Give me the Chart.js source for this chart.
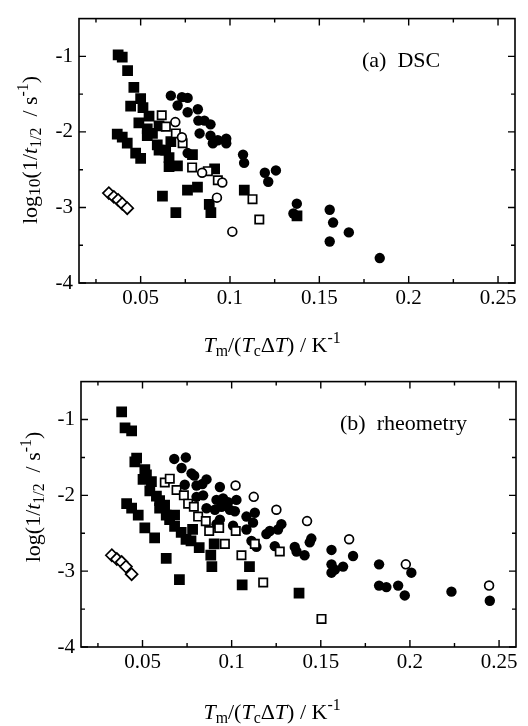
<!DOCTYPE html>
<html>
<head>
<meta charset="utf-8">
<script src="https://cdn.jsdelivr.net/npm/chart.js@4.4.1/dist/chart.umd.min.js"></script>
<style>
  body { margin: 0; background: #fff; }
  #wrap { position: relative; width: 528px; height: 726px; font-family: "Liberation Serif", "Times New Roman", serif; color: #000; }
  .panel { position: absolute; left: 0; width: 528px; height: 363px; }
  .txt { position: absolute; white-space: nowrap; font-size: 22px; line-height: 1; }
  .rot { transform: translate(-50%, -50%) rotate(-90deg); }
  .ctr { transform: translate(-50%, -50%); }
  sub { font-size: 0.72em; vertical-align: -0.25em; line-height: 0; }
  sup { font-size: 0.72em; vertical-align: 0.55em; line-height: 0; }
  .big sub.n { font-size: 0.8em; vertical-align: -0.15em; }
</style>
</head>
<body>
<div id="wrap">
  <div class="panel" style="top:0"><canvas id="dsc" width="528" height="363"></canvas></div>
  <div class="panel" style="top:363px"><canvas id="rheo" width="528" height="363"></canvas></div>

  <div class="txt" style="left:362px;top:49px">(a)&nbsp; DSC</div>
  <div class="txt rot big" style="left:30px;top:150px">log<sub class="n">10</sub>(1/<i>t</i><sub>1/2</sub>&nbsp; / s<sup>-1</sup>)</div>
  <div class="txt ctr" style="left:272px;top:345px"><i>T</i><sub>m</sub>/(<i>T</i><sub>c</sub>Δ<i>T</i>) / K<sup>-1</sup></div>

  <div class="txt" style="left:340px;top:412px">(b)&nbsp; rheometry</div>
  <div class="txt rot" style="left:33px;top:497px">log(1/<i>t</i><sub>1/2</sub>&nbsp; / s<sup>-1</sup>)</div>
  <div class="txt ctr" style="left:272px;top:712px"><i>T</i><sub>m</sub>/(<i>T</i><sub>c</sub>Δ<i>T</i>) / K<sup>-1</sup></div>
</div>

<script>
// axis ranges and ticks (same for both panels)
const xMin = 0.0155, xMax = 0.2595;
const yMin = -4, yMax = -0.5;
const xMajorTicks = [0.05, 0.1, 0.15, 0.2, 0.25];
const xMinorTicks = [0.025, 0.075, 0.125, 0.175, 0.225];
const yMajorTicks = [-4, -3, -2, -1];
const yMinorTicks = [-3.5, -2.5, -1.5];

// (a) DSC — [x, y] pairs
const dscFilledSquare = [
  [0.0374, -0.98], [0.0397, -1.01], [0.0427, -1.19], [0.0462, -1.41], [0.0500, -1.56],
  [0.0444, -1.66], [0.0513, -1.68], [0.0547, -1.79], [0.0490, -1.88], [0.0537, -1.96],
  [0.0537, -2.05], [0.0566, -2.02], [0.0603, -1.92], [0.0593, -2.17], [0.0603, -2.24],
  [0.0640, -2.24], [0.0669, -2.13], [0.0659, -2.34], [0.0659, -2.46], [0.0706, -2.45],
  [0.0790, -2.30], [0.0818, -2.73], [0.0762, -2.77], [0.0622, -2.85], [0.0697, -3.07],
  [0.0884, -2.96], [0.0893, -3.07], [0.0914, -2.49], [0.1080, -2.77], [0.1375, -3.11],
  [0.0369, -2.03], [0.0397, -2.07], [0.0425, -2.15], [0.0472, -2.28], [0.0500, -2.35]
];
const dscFilledCircle = [
  [0.0669, -1.52], [0.0707, -1.65], [0.0731, -1.54], [0.0763, -1.55], [0.0763, -1.74],
  [0.0820, -1.70], [0.0823, -1.85], [0.0857, -1.85], [0.0891, -1.90], [0.0830, -2.02],
  [0.0891, -2.05], [0.0904, -2.15], [0.0932, -2.11], [0.0979, -2.09], [0.0979, -2.15],
  [0.0763, -2.28], [0.1073, -2.30], [0.1079, -2.41], [0.1195, -2.54], [0.1257, -2.51],
  [0.1214, -2.66], [0.1374, -2.95], [0.1355, -3.08], [0.1558, -3.03], [0.1577, -3.20],
  [0.1558, -3.45], [0.1665, -3.33], [0.1838, -3.67]
];
const dscOpenSquare = [
  [0.0618, -1.78], [0.0641, -1.93], [0.0697, -2.02], [0.0735, -2.15], [0.0788, -2.47],
  [0.0876, -2.52], [0.0932, -2.64], [0.1126, -2.89], [0.1164, -3.16]
];
const dscOpenCircle = [
  [0.0694, -1.87], [0.0731, -2.07], [0.0844, -2.54], [0.0957, -2.67], [0.0927, -2.87],
  [0.1013, -3.32]
];
const dscOpenDiamond = [
  [0.0322, -2.81], [0.0350, -2.86], [0.0374, -2.90], [0.0397, -2.95], [0.0425, -3.01]
];

// (b) rheometry
const rheoFilledSquare = [
  [0.0383, -0.90], [0.0402, -1.11], [0.0439, -1.15], [0.0467, -1.51], [0.0457, -1.56],
  [0.0513, -1.66], [0.0522, -1.73], [0.0503, -1.79], [0.0550, -1.82], [0.0541, -1.94],
  [0.0578, -2.01], [0.0596, -2.07], [0.0596, -2.17], [0.0624, -2.13], [0.0633, -2.26],
  [0.0680, -2.26], [0.0652, -2.32], [0.0680, -2.41], [0.0717, -2.49], [0.0744, -2.58],
  [0.0781, -2.45], [0.0772, -2.60], [0.0818, -2.69], [0.0902, -2.64], [0.0883, -2.79],
  [0.0889, -2.94], [0.0633, -2.83], [0.0707, -3.11], [0.1100, -2.94], [0.1059, -3.18],
  [0.1378, -3.29], [0.0411, -2.11], [0.0439, -2.17], [0.0476, -2.26], [0.0513, -2.43],
  [0.0568, -2.56]
];
const rheoFilledCircle = [
  [0.0678, -1.52], [0.0743, -1.50], [0.0719, -1.64], [0.0775, -1.71], [0.0790, -1.74],
  [0.0737, -1.86], [0.0803, -1.87], [0.0859, -1.79], [0.0836, -1.85], [0.0934, -1.89],
  [0.0803, -2.02], [0.0840, -2.00], [0.0859, -2.17], [0.0906, -2.19], [0.0915, -2.06],
  [0.0952, -2.04], [0.0943, -2.15], [0.0980, -2.09], [0.0990, -2.19], [0.1027, -2.06],
  [0.1018, -2.21], [0.0934, -2.32], [0.0915, -2.38], [0.1008, -2.40], [0.1083, -2.28],
  [0.1083, -2.45], [0.1130, -2.23], [0.1120, -2.36], [0.1111, -2.60], [0.1139, -2.68],
  [0.1195, -2.51], [0.1214, -2.47], [0.1260, -2.45], [0.1279, -2.38], [0.1242, -2.67],
  [0.1354, -2.68], [0.1364, -2.74], [0.1409, -2.79], [0.1438, -2.62], [0.1447, -2.57],
  [0.1560, -2.72], [0.1560, -2.91], [0.1560, -3.02], [0.1579, -2.98], [0.1625, -2.94],
  [0.1681, -2.80], [0.1827, -2.91], [0.1827, -3.19], [0.1868, -3.21], [0.1934, -3.19],
  [0.1971, -3.32], [0.2008, -3.02], [0.2233, -3.27], [0.2448, -3.39]
];
const rheoOpenSquare = [
  [0.0625, -1.83], [0.0653, -1.78], [0.0691, -1.93], [0.0732, -2.00], [0.0756, -2.11],
  [0.0788, -2.15], [0.0812, -2.28], [0.0855, -2.34], [0.0874, -2.47], [0.0930, -2.43],
  [0.0962, -2.64], [0.1023, -2.47], [0.1055, -2.79], [0.1130, -2.64], [0.1177, -3.15],
  [0.1270, -2.74], [0.1504, -3.63]
];
const rheoOpenCircle = [
  [0.1022, -1.87], [0.1124, -2.02], [0.1251, -2.19], [0.1423, -2.34], [0.1659, -2.58],
  [0.1977, -2.91], [0.2444, -3.19]
];
const rheoOpenDiamond = [
  [0.0328, -2.79], [0.0356, -2.84], [0.0383, -2.88], [0.0407, -2.94], [0.0439, -3.04]
];

const font = { family: "'Liberation Serif', 'Times New Roman', serif", size: 21 };
const pts = arr => arr.map(([x, y]) => ({ x, y }));

// frame + inward ticks on all four sides
const frameTicks = {
  id: "frameTicks",
  afterDatasetsDraw(chart) {
    const { ctx, chartArea: a, scales: { x, y } } = chart;
    ctx.save();
    ctx.strokeStyle = "#000";
    ctx.lineWidth = 1.6;
    ctx.strokeRect(a.left, a.top, a.right - a.left, a.bottom - a.top);
    ctx.lineWidth = 1.4;
    ctx.beginPath();
    const xt = (v, len) => {
      const px = x.getPixelForValue(v);
      ctx.moveTo(px, a.bottom); ctx.lineTo(px, a.bottom - len);
      ctx.moveTo(px, a.top); ctx.lineTo(px, a.top + len);
    };
    const yt = (v, len) => {
      const py = y.getPixelForValue(v);
      ctx.moveTo(a.left, py); ctx.lineTo(a.left + len, py);
      ctx.moveTo(a.right, py); ctx.lineTo(a.right - len, py);
    };
    xMajorTicks.forEach(v => xt(v, 7));
    xMinorTicks.forEach(v => xt(v, 4));
    yMajorTicks.forEach(v => yt(v, 7));
    yMinorTicks.forEach(v => yt(v, 4));
    ctx.stroke();
    ctx.restore();
  }
};

function makeChart(id, series, box) {
  const [fSq, fCi, oSq, oCi, oDi] = series;
  const open = { backgroundColor: "#fff", borderColor: "#000", borderWidth: 1.7 };
  const filled = { backgroundColor: "#000", borderColor: "#000", borderWidth: 0 };
  return new Chart(document.getElementById(id), {
    type: "scatter",
    data: {
      datasets: [
        { data: pts(oDi), pointStyle: "rectRot", pointRadius: 6, ...open },
        { data: pts(oCi), pointStyle: "circle", pointRadius: 4.4, ...open },
        { data: pts(oSq), pointStyle: "rect", pointRadius: 5.9, ...open },
        { data: pts(fCi), pointStyle: "circle", pointRadius: 5.2, ...filled },
        { data: pts(fSq), pointStyle: "rect", pointRadius: 7.6, ...filled },
      ]
    },
    options: {
      responsive: false,
      devicePixelRatio: 1,
      animation: false,
      events: [],
      layout: { padding: { left: 0, right: 528 - box.right, top: box.top, bottom: 0 } },
      plugins: { legend: { display: false }, tooltip: { enabled: false } },
      scales: {
        x: {
          type: "linear", min: xMin, max: xMax,
          afterBuildTicks: s => { s.ticks = xMajorTicks.map(v => ({ value: v })); },
          afterFit: s => { s.height = 363 - box.bottom; },
          grid: { display: false, drawTicks: false },
          border: { display: false },
          ticks: { font, color: "#000", padding: 3, maxRotation: 0, autoSkip: false,
                   callback: v => String(+v.toFixed(3)) }
        },
        y: {
          type: "linear", min: yMin, max: yMax,
          afterBuildTicks: s => { s.ticks = yMajorTicks.map(v => ({ value: v })); },
          afterFit: s => { s.width = box.left; },
          grid: { display: false, drawTicks: false },
          border: { display: false },
          ticks: { font, color: "#000", padding: 6, callback: v => String(v) }
        }
      }
    },
    plugins: [frameTicks]
  });
}

makeChart("dsc",
  [dscFilledSquare, dscFilledCircle, dscOpenSquare, dscOpenCircle, dscOpenDiamond],
  { left: 79, right: 515, top: 9, bottom: 283 });
makeChart("rheo",
  [rheoFilledSquare, rheoFilledCircle, rheoOpenSquare, rheoOpenCircle, rheoOpenDiamond],
  { left: 81, right: 516, top: 10, bottom: 284 });
</script>
</body>
</html>
